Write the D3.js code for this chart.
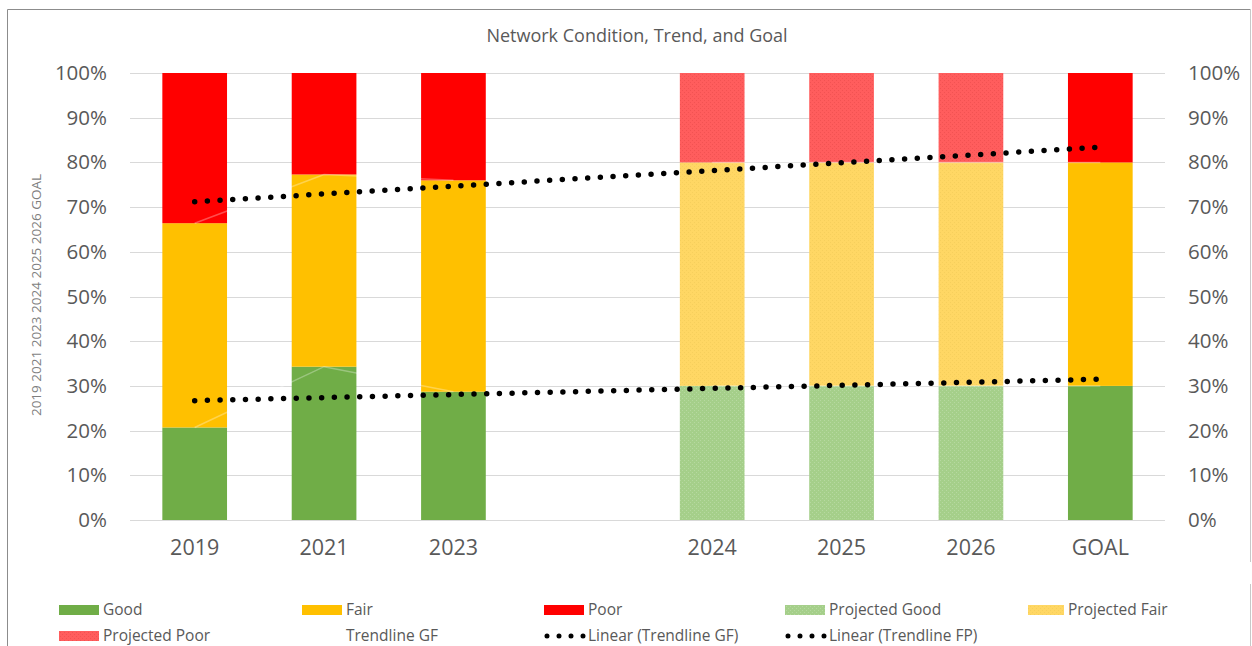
<!DOCTYPE html>
<html><head><meta charset="utf-8">
<script src="https://cdn.jsdelivr.net/npm/d3@7"></script>
<style>
html,body{margin:0;padding:0;background:#fff;}
svg{display:block;font-family:"Open Sans","Noto Sans",sans-serif;}
</style></head>
<body>
<svg id="chart" width="1252" height="646"></svg>
<script>
// ---------- data ----------
const categories = ["2019","2021","2023"," ","2024","2025","2026","GOAL"];
const good      = [20.7, 34.3, 28.7, 0, 0, 0, 0, 30];
const fair      = [45.7, 43.0, 47.3, 0, 0, 0, 0, 50];
const poor      = [33.6, 22.7, 24.0, 0, 0, 0, 0, 20];
const projGood  = [0, 0, 0, 0, 30, 30, 30, 0];
const projFair  = [0, 0, 0, 0, 50, 50, 50, 0];
const projPoor  = [0, 0, 0, 0, 20, 20, 20, 0];
// helper (white) trendline series
const trendlineGF = [20.7, 34.3, 28.7, null, 30, 30, 30, 30];
const trendlineFP = [66.4, 77.3, 76.0, null, 80, 80, 80, 80];
// linear trendlines, value at first and last category
const linearGF = [26.7, 31.5];
const linearFP = [71.2, 83.4];
const yTicks = [0,10,20,30,40,50,60,70,80,90,100];
const seriesNames = ["Good","Fair","Poor","Projected Good","Projected Fair","Projected Poor"];
const legendItems = ["Good","Fair","Poor","Projected Good","Projected Fair","Projected Poor","Trendline GF","Linear (Trendline GF)","Linear (Trendline FP)"];
const sideText = "2019 2021 2023 2024 2025 2026 GOAL";
const title = "Network Condition, Trend, and Goal";

// ---------- styles ----------
const colors = {
  "Good":"#70ad47","Fair":"#ffc000","Poor":"#ff0000",
  "Projected Good":"#a5cf8a","Projected Fair":"#ffd764","Projected Poor":"#ff5d5d"
};
const dotColors = {"Projected Good":"#b6d9a0","Projected Fair":"#f6cf5c","Projected Poor":"#f25252"};

const svg = d3.select("#chart");
const defs = svg.append("defs");
["Projected Good","Projected Fair","Projected Poor"].forEach((n,i)=>{
  const p = defs.append("pattern").attr("id","pat"+i).attr("patternUnits","userSpaceOnUse")
    .attr("width",4).attr("height",4);
  p.append("rect").attr("width",4).attr("height",4).attr("fill",colors[n]);
  p.append("rect").attr("x",0).attr("y",0).attr("width",1).attr("height",1).attr("fill",dotColors[n]);
  p.append("rect").attr("x",2).attr("y",2).attr("width",1).attr("height",1).attr("fill",dotColors[n]);
});
const fillFor = n => n.startsWith("Projected") ? `url(#pat${["Projected Good","Projected Fair","Projected Poor"].indexOf(n)})` : colors[n];

// border
const bc = "#8c8c8c";
svg.append("line").attr("x1",7.5).attr("x2",7.5).attr("y1",9.5).attr("y2",646).attr("stroke",bc);
svg.append("line").attr("x1",7.5).attr("x2",1250.5).attr("y1",9.5).attr("y2",9.5).attr("stroke",bc);
svg.append("line").attr("x1",1250.5).attr("x2",1250.5).attr("y1",9.5).attr("y2",562).attr("stroke","#c8c8c8");
svg.append("line").attr("x1",1250.5).attr("x2",1250.5).attr("y1",584).attr("y2",646).attr("stroke","#c8c8c8");

// scales
const x = d3.scaleBand().domain(categories).range([130,1165]).paddingInner(0.5).paddingOuter(0.25);
const y = d3.scaleLinear().domain([0,100]).range([520,73]);

// gridlines
svg.append("g").selectAll("line").data(yTicks).join("line")
  .attr("x1",130).attr("x2",1165)
  .attr("y1",d=>Math.round(y(d))+0.5).attr("y2",d=>Math.round(y(d))+0.5)
  .attr("stroke","#d9d9d9").attr("stroke-width",1);

// title
svg.append("text").attr("x",637).attr("y",42).attr("text-anchor","middle")
  .attr("font-size",18).attr("fill","#595959").text(title);

// side rotated text
svg.append("text").attr("transform","translate(41,295) rotate(-90)").attr("text-anchor","middle")
  .attr("font-size",13.5).attr("fill","#7f7f7f").text(sideText);

// axes
const yAxisL = d3.axisLeft(y).tickValues(yTicks).tickFormat(d=>d+"%").tickSize(0).tickPadding(0);
const gL = svg.append("g").attr("transform","translate(107,0)").call(yAxisL);
const yAxisR = d3.axisRight(y).tickValues(yTicks).tickFormat(d=>d+"%").tickSize(0).tickPadding(0);
const gR = svg.append("g").attr("transform","translate(1188,0)").call(yAxisR);
[gL,gR].forEach(g=>{
  g.select(".domain").remove();
  g.selectAll("text").attr("font-size",20.5).attr("fill","#595959").attr("font-family","'Open Sans',sans-serif");
});
const xAxis = d3.axisBottom(x).tickSize(0).tickPadding(0).tickFormat(d=>d.trim());
const gX = svg.append("g").attr("transform","translate(0,540)").call(xAxis);
gX.select(".domain").remove();
gX.selectAll("text").attr("font-size",21.5).attr("fill","#595959").attr("font-family","'Open Sans',sans-serif").attr("dy","0.71em");

// baseline axis line
svg.append("line").attr("x1",130).attr("x2",1165).attr("y1",y(0)+0.5).attr("y2",y(0)+0.5).attr("stroke","#d9d9d9");

// stacked bars
const table = categories.map((c,i)=>({cat:c,"Good":good[i],"Fair":fair[i],"Poor":poor[i],
  "Projected Good":projGood[i],"Projected Fair":projFair[i],"Projected Poor":projPoor[i]}));
const stacked = d3.stack().keys(seriesNames)(table);
svg.append("g").selectAll("g").data(stacked).join("g")
  .attr("fill",s=>fillFor(s.key))
  .selectAll("rect").data(s=>s.filter(d=>d[1]-d[0]>0)).join("rect")
  .attr("x",d=>x(d.data.cat)).attr("width",x.bandwidth())
  .attr("y",d=>y(d[1])).attr("height",d=>y(d[0])-y(d[1]));

// white helper lines
const cx = c => x(c)+x.bandwidth()/2;
const helper = d3.line().defined(d=>d.v!=null).x(d=>cx(d.c)).y(d=>y(d.v));
[trendlineGF,trendlineFP].forEach(arr=>{
  svg.append("path").attr("d",helper(arr.map((v,i)=>({c:categories[i],v}))))
    .attr("fill","none").attr("stroke","#ffffff").attr("stroke-opacity",0.3).attr("stroke-width",1.5);
});

// linear trendlines (dotted)
const first = categories[0], last = categories[categories.length-1];
[linearGF,linearFP].forEach(arr=>{
  svg.append("line").attr("x1",cx(first)).attr("x2",cx(last))
    .attr("y1",y(arr[0])).attr("y2",y(arr[1]))
    .attr("stroke","#000").attr("stroke-width",5.5).attr("stroke-linecap","round")
    .attr("stroke-dasharray","0 12.7");
});

// legend
const legX = [59,302,544,785,1028];
const legY = [610,636];
const lg = svg.append("g").attr("font-size",15.5).attr("fill","#595959");
legendItems.forEach((name,i)=>{
  const col = i%5, row = Math.floor(i/5);
  const lx = legX[col], ly = legY[row];
  const g = lg.append("g");
  if (colors[name]) {
    g.append("rect").attr("x",lx).attr("y",ly-5).attr("width",col===4?36:40).attr("height",10).attr("fill",fillFor(name));
  } else if (name.startsWith("Linear")) {
    g.append("line").attr("x1",lx+3).attr("x2",lx+40).attr("y1",ly).attr("y2",ly)
      .attr("stroke","#000").attr("stroke-width",5).attr("stroke-linecap","round").attr("stroke-dasharray","0 12");
  }
  g.append("text").attr("x",lx+(col===4?40:44)).attr("y",ly).attr("dy","0.35em").attr("fill","#595959").text(name);
});
</script>
</body></html>
